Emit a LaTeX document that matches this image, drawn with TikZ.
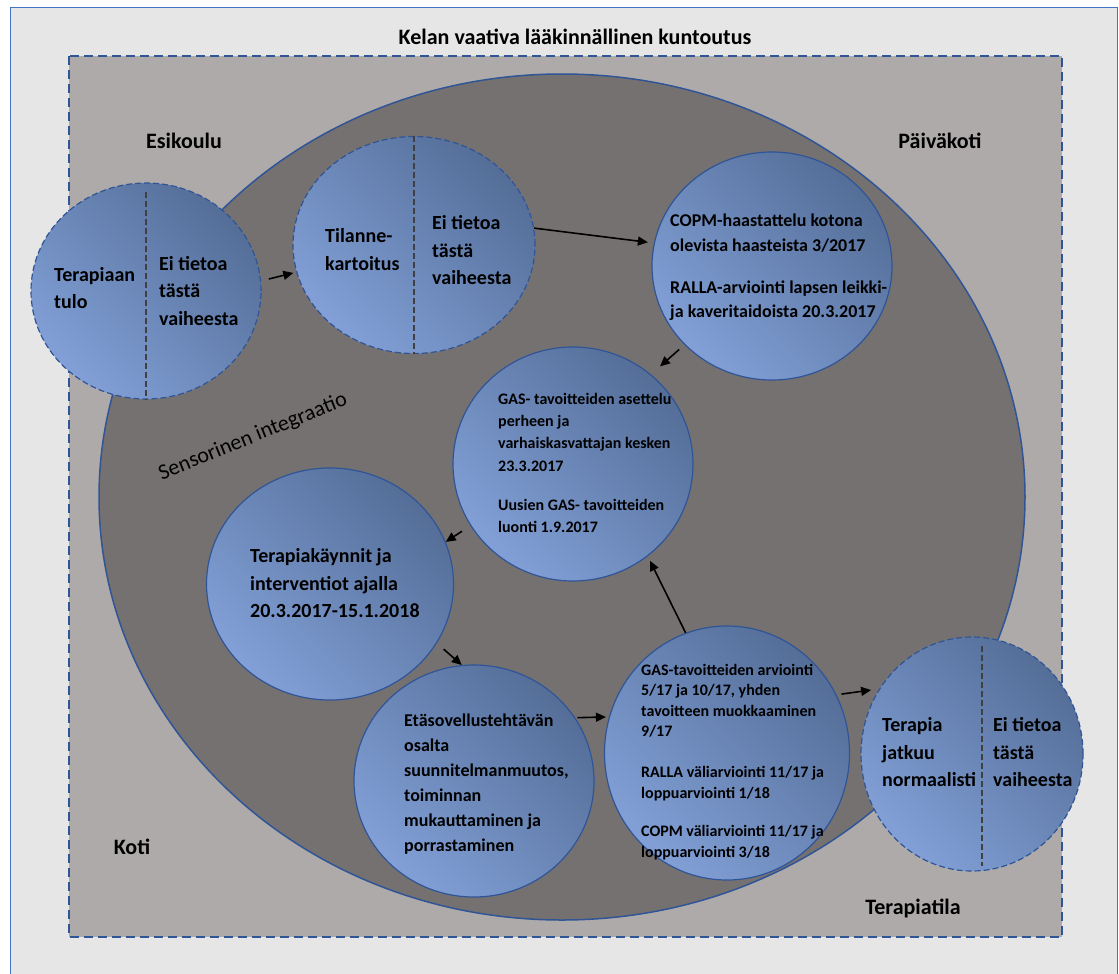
\documentclass[tikz,border=0pt]{standalone}
\usepackage{fontspec}
\setmainfont{Carlito}
\usetikzlibrary{shapes.geometric,arrows.meta}

\definecolor{framebg}{HTML}{E7E6E6}
\definecolor{frameblue}{HTML}{4472C4}
\definecolor{zonegray}{HTML}{AEAAAA}
\definecolor{sigray}{HTML}{767171}
\definecolor{lineblue}{HTML}{2F5597}
\definecolor{circlight}{RGB}{130,160,215}
\definecolor{circdark}{RGB}{84,110,152}
\definecolor{divgray}{HTML}{404040}

\begin{document}
\begin{tikzpicture}[x=1pt, y=-1pt,
    phasecirc/.style={ellipse, inner sep=0pt, draw=lineblue, line width=1.2pt,
      top color=circdark, bottom color=circlight, shading angle=-45},
    openphase/.style={phasecirc, dash pattern=on 6pt off 3pt},
    divider/.style={draw=divgray, line width=1.2pt, dash pattern=on 6pt off 3pt},
    txtbig/.style={inner sep=0pt, anchor=west, align=left, font=\fontsize{20}{27.5}\selectfont\bfseries},
    txtmid/.style={inner sep=0pt, anchor=west, align=left, font=\fontsize{18}{24.5}\selectfont\bfseries},
    txtsmall/.style={inner sep=0pt, anchor=west, align=left, font=\fontsize{16}{22.3}\selectfont\bfseries},
    zonelabel/.style={inner sep=0pt, font=\fontsize{22}{26}\selectfont\bfseries},
    arr/.style={-{Triangle[length=10pt,width=9pt]}, line width=1.6pt}]
  \useasboundingbox (0,0) rectangle (1119,974);
  \fill[white] (0,0) rectangle (1119,974);
  \clip (0,0) rectangle (1119,974);

  \draw[fill=framebg, draw=frameblue, line width=1pt] (10.5,7.5) rectangle (1117.5,990);
  \node[zonelabel] (title) at (575,37) {Kelan vaativa lääkinnällinen kuntoutus};
  \draw[fill=zonegray, draw=lineblue, line width=1.5pt, dash pattern=on 9pt off 5pt] (69,56) rectangle (1062,937);

  \node[zonelabel] (esikoulu) at (184,141) {Esikoulu};
  \node[zonelabel] (paivakoti) at (940,141) {Päiväkoti};
  \node[zonelabel] (koti) at (132,847) {Koti};
  \node[zonelabel] (terapiatila) at (913,908) {Terapiatila};

  \fill[sigray] (562,497) ellipse [x radius=463pt, y radius=423pt];
  \node[rotate=22, font=\fontsize{22}{26}\selectfont] (sensorinen) at (253,437) {Sensorinen integraatio};

  \node[phasecirc, minimum width=240pt, minimum height=228pt] (copm) at (772,266) {};
  \node[phasecirc, minimum width=240pt, minimum height=234pt] (gasset) at (573,464) {};
  \node[phasecirc, minimum width=247pt, minimum height=232pt] (kaynnit) at (330,584) {};
  \node[phasecirc, minimum width=240pt, minimum height=232pt] (etaso) at (474,781) {};
  \node[phasecirc, minimum width=245pt, minimum height=254pt] (gasarv) at (727,753) {};

  \draw[lineblue, line width=1.5pt] (562,497) ellipse [x radius=463pt, y radius=423pt];

  \node[openphase, minimum width=230pt, minimum height=216pt] (tulo) at (146,291) {};
  \node[openphase, minimum width=242pt, minimum height=217pt] (kartoitus) at (414,245) {};
  \node[openphase, minimum width=222pt, minimum height=234pt] (jatkuu) at (972,754) {};
  \draw[divider] ([yshift=-10pt]tulo.north) -- (tulo.south);
  \draw[divider] (kartoitus.north) -- (kartoitus.south);
  \draw[divider] ([xshift=10pt,yshift=-10pt]jatkuu.north) -- ([xshift=10pt,yshift=6pt]jatkuu.south);

  \node[txtbig] (tuloA) at (54,288) {Terapiaan\\tulo};
  \node[txtbig] (tuloB) at (159,291) {Ei tietoa\\tästä\\vaiheesta};
  \node[txtbig] (kartoitusA) at (325,249.5) {Tilanne-\\kartoitus};
  \node[txtbig] (kartoitusB) at (432,250.5) {Ei tietoa\\tästä\\vaiheesta};
  \node[txtmid] (copmT) at (670,267.5) {COPM-haastattelu kotona\\olevista haasteista 3/2017\\[17.5pt]RALLA-arviointi lapsen leikki-\\ja kaveritaidoista 20.3.2017};
  \node[txtsmall] (gassetT) at (498,463) {GAS- tavoitteiden asettelu\\perheen ja\\varhaiskasvattajan kesken\\23.3.2017\\[17pt]Uusien GAS- tavoitteiden\\luonti 1.9.2017};
  \node[txtbig] (kaynnitT) at (250,583.5) {Terapiakäynnit ja\\interventiot ajalla\\20.3.2017-15.1.2018};
  \node[txtmid, font=\fontsize{18}{25}\selectfont\bfseries] (etasoT) at (404,784.5) {Etäsovellustehtävän\\osalta\\suunnitelmanmuutos,\\toiminnan\\mukauttaminen ja\\porrastaminen};
  \node[txtsmall, font=\fontsize{16}{20.5}\selectfont\bfseries] (gasarvT) at (641,762) {GAS-tavoitteiden arviointi\\5/17 ja 10/17, yhden\\tavoitteen muokkaaminen\\9/17\\[20.5pt]RALLA väliarviointi 11/17 ja\\loppuarviointi 1/18\\[18pt]COPM väliarviointi 11/17 ja\\loppuarviointi 3/18};
  \node[txtbig] (jatkuuA) at (882,752.5) {Terapia\\jatkuu\\normaalisti};
  \node[txtbig] (jatkuuB) at (993,752.5) {Ei tietoa\\tästä\\vaiheesta};

  \draw[arr, shorten <=8pt, shorten >=3pt] (tulo.5) -- (kartoitus.193);
  \draw[arr, shorten >=6pt] (kartoitus.8) -- (copm.169);
  \draw[arr, shorten <=7pt, shorten >=12pt] (copm.222) -- (gasset.49);
  \draw[arr, shorten <=10pt] (gasset.211) -- (kaynnit.20);
  \draw[arr, shorten <=9pt] (kaynnit.-29) -- (etaso.96);
  \draw[arr, shorten <=2pt, shorten >=3pt] (etaso.32) -- (gasarv.163);
  \draw[arr, shorten >=5pt] (gasarv.109) -- (gasset.-51);
  \draw[arr, shorten <=5pt, shorten >=8pt] (gasarv.28) -- (jatkuu.145);
\end{tikzpicture}
\end{document}
